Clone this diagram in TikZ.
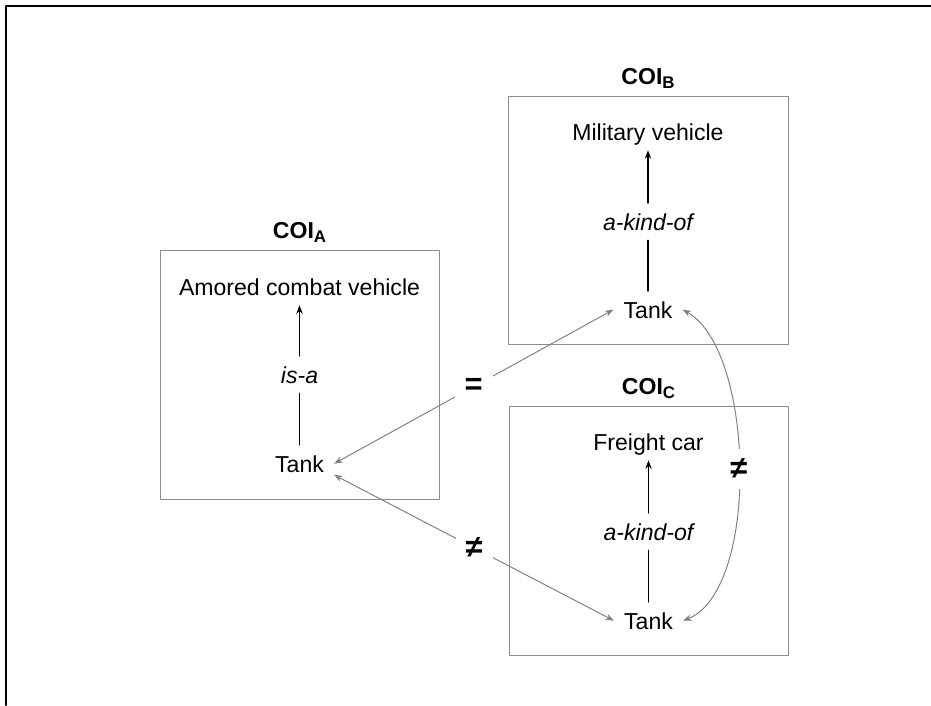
\documentclass[tikz,border=0pt]{standalone}
\usepackage{fontspec}
\setmainfont{Liberation Sans}
\usetikzlibrary{arrows.meta}

\definecolor{boxgray}{gray}{0.55}
\definecolor{linkgray}{gray}{0.5}
\newcommand{\coisub}[1]{\raisebox{-0.4ex}{\fontsize{12}{14}\selectfont #1}}

\begin{document}
\begin{tikzpicture}[
    % 以像素为单位，y 轴朝下
    x={(0.025cm,0cm)},
    y={(0cm,-0.025cm)},
    >={Stealth[length=6pt,width=4.5pt]},
    line cap=round,
    line join=round,
    font=\fontsize{16.4}{19.7}\selectfont,
    coibox/.style={draw=boxgray,line width=0.7pt},
    coititle/.style={anchor=base,font=\fontsize{16.4}{19.7}\selectfont\bfseries},
    term/.style={anchor=base,inner sep=0.25cm,text depth=0pt},
    rel/.style={term,font=\fontsize{16.4}{19.7}\selectfont\itshape},
    isa/.style={line width=1pt},
    link/.style={draw=linkgray,line width=0.7pt,<->},
    relsym/.style={fill=white,inner sep=0.25cm,font=\fontsize{22}{26}\selectfont\bfseries},
  ]

  \useasboundingbox (0,0) rectangle (931,705);

  % 外框（只有上边和左边）
  \draw[line width=1.4pt] (931,6) -- (6,6) -- (6,705);

  % 三个 COI 方框的角点
  \coordinate (A1) at (160,250);
  \coordinate (A2) at (439,499);
  \coordinate (B1) at (508,96);
  \coordinate (B2) at (788,344);
  \coordinate (C1) at (509,406);
  \coordinate (C2) at (788,655);

  \draw[coibox] (A1) rectangle (A2);
  \draw[coibox] (B1) rectangle (B2);
  \draw[coibox] (C1) rectangle (C2);

  % 方框标题
  \node[coititle] (titleA) at (299.5,238) {COI\coisub{A}};
  \node[coititle] (titleB) at (648,84) {COI\coisub{B}};
  \node[coititle] (titleC) at (648.5,394) {COI\coisub{C}};

  % COI_A
  \node[term] (topA)  at (299.5,295) {Amored combat vehicle};
  \node[rel]  (relA)  at (299.5,383) {is-a};
  \node[term] (tankA) at (299.5,472) {Tank};
  \draw[isa] (tankA) -- (relA);
  \draw[isa,->] (relA) -- (topA);

  % COI_B
  \node[term] (topB)  at (648,140) {Military vehicle};
  \node[rel]  (relB)  at (648,230) {a-kind-of};
  \node[term] (tankB) at (648,318) {Tank};
  \draw[isa] (tankB) -- (relB);
  \draw[isa,->] (relB) -- (topB);

  % COI_C
  \node[term] (topC)  at (648.5,450) {Freight car};
  \node[rel]  (relC)  at (648.5,540) {a-kind-of};
  \node[term] (tankC) at (648.5,629) {Tank};
  \draw[isa] (tankC) -- (relC);
  \draw[isa,->] (relC) -- (topC);

  % 各 Tank 之间的关系
  \draw[link] (tankA.east) -- node[relsym] (eqAB) {=} (tankB.west);
  \draw[link] (tankA.-18) -- node[relsym] (neAC) {≠} (tankC.west);
  \draw[link] (tankB.east) .. controls (755,350) and (760,590) .. node[relsym] (neBC) {≠} (tankC.east);

\end{tikzpicture}
\end{document}
